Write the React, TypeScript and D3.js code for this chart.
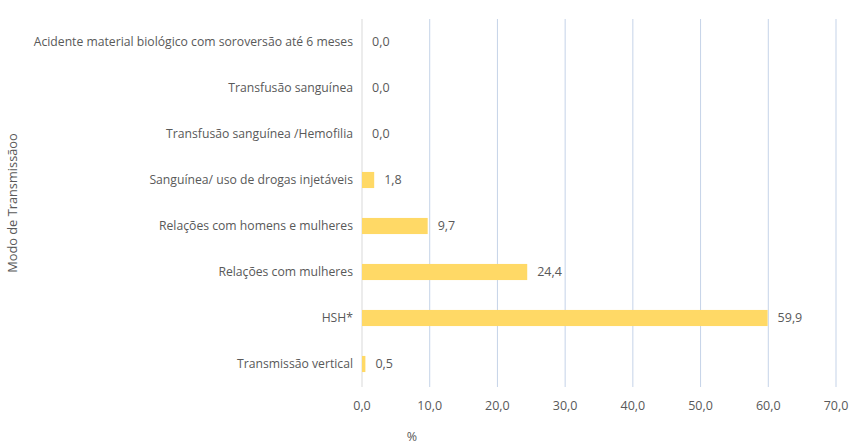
import React from "react";
import * as d3 from "d3";

const categories = [
  "Acidente material biológico com soroversão até 6 meses",
  "Transfusão sanguínea",
  "Transfusão sanguínea /Hemofilia",
  "Sanguínea/ uso de drogas injetáveis",
  "Relações com homens e mulheres",
  "Relações com mulheres",
  "HSH*",
  "Transmissão vertical",
];
const values = [0.0, 0.0, 0.0, 1.8, 9.7, 24.4, 59.9, 0.5];
const xTicks = [0, 10, 20, 30, 40, 50, 60, 70];

const W = 850;
const H = 446;
const left = 362;
const right = 836;
const top = 19;
const bottom = 387;
const FONT = "'Open Sans', sans-serif";
const TEXT = "#595959";

const fmt = (v: number) => v.toFixed(1).replace(".", ",");

export default function App() {
  const x = d3.scaleLinear().domain([0, 70]).range([left, right]);
  const y = d3.scaleBand<string>().domain(categories).range([top, bottom]).paddingInner(0.65).paddingOuter(0.325);
  return (
    <svg width={W} height={H} style={{ position: "absolute", left: 0, top: 0 }} fontFamily={FONT}>
      <rect width={W} height={H} fill="#fff" />
      {xTicks.map((t) =>
        t === 0 ? null : (
          <line key={t} x1={x(t)} x2={x(t)} y1={top} y2={bottom} stroke="#c5d3e8" strokeWidth={1} />
        )
      )}
      <line x1={x(0)} x2={x(0)} y1={top} y2={bottom} stroke="#d9d9d9" strokeWidth={1} />
      {categories.map((c, i) => (
        <g key={c}>
          <rect x={x(0)} y={y(c)!} width={x(values[i]) - x(0)} height={y.bandwidth()} fill="#ffd966" />
          <text x={left - 9} y={y(c)! + y.bandwidth() / 2} dy="0.35em" textAnchor="end" fontSize={12.2} fill={TEXT}>
            {c}
          </text>
          <text x={x(values[i]) + 10} y={y(c)! + y.bandwidth() / 2} dy="0.35em" fontSize={12.5} fill={TEXT}>
            {fmt(values[i])}
          </text>
        </g>
      ))}
      {xTicks.map((t) => (
        <text key={t} x={x(t)} y={406} dy="0.35em" textAnchor="middle" fontSize={12.5} fill={TEXT}>
          {fmt(t)}
        </text>
      ))}
      <text x={412} y={437} dy="0.35em" textAnchor="middle" fontSize={12.5} fill={TEXT}>%</text>
      <text transform={`translate(13,203) rotate(-90)`} dy="0.35em" textAnchor="middle" fontSize={12.8} fill={TEXT}>
        Modo de Transmissãoo
      </text>
    </svg>
  );
}
